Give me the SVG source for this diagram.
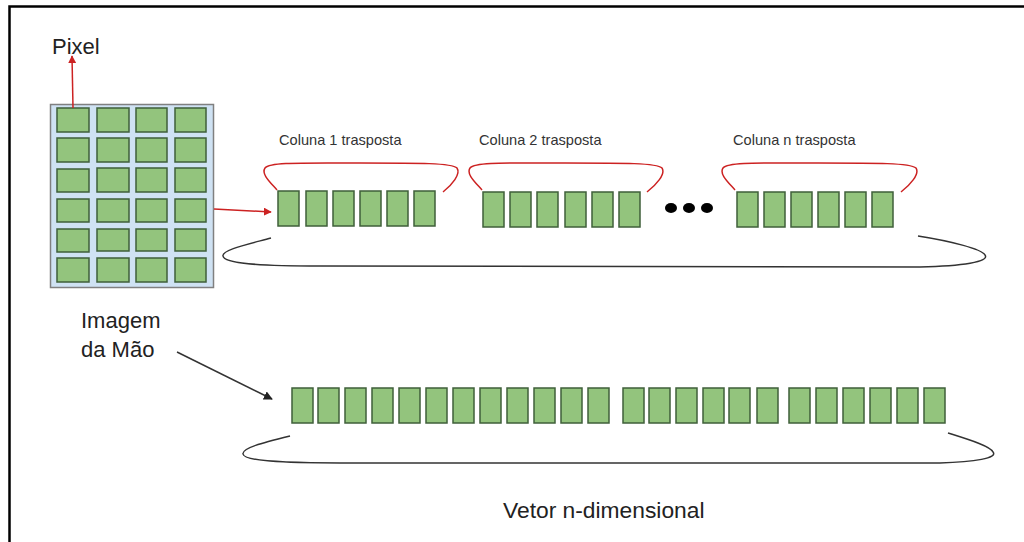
<svg xmlns="http://www.w3.org/2000/svg" width="1024" height="542" viewBox="0 0 1024 542">
  <defs>
    <style>
      .cell { fill: #93c47d; stroke: #3f5f3a; stroke-width: 1.5; }
      .bar { fill: #93c47d; stroke: #3f5f3a; stroke-width: 1.5; }
      .lbl { font-family: "Liberation Sans", Arial, sans-serif; fill: #222; }
      .small { font-size: 14.6px; fill: #333; }
      .red { fill: none; stroke: #cc2222; stroke-width: 1.5; }
      .blk { fill: none; stroke: #333; stroke-width: 1.5; }
    </style>
    <marker id="ahRed" viewBox="0 0 10 10" refX="9" refY="5" markerWidth="8" markerHeight="8" markerUnits="userSpaceOnUse" orient="auto">
      <path d="M0,0 L10,5 L0,10 z" fill="#cc2222"/>
    </marker>
    <marker id="ahBlk" viewBox="0 0 10 10" refX="9" refY="5" markerWidth="9" markerHeight="9" markerUnits="userSpaceOnUse" orient="auto">
      <path d="M0,0 L10,5 L0,10 z" fill="#222"/>
    </marker>
    <rect id="b" class="bar" width="21" height="35"/>
  </defs>
  <rect width="1024" height="542" fill="#fff"/>
  <!-- frame -->
  <path d="M9.5,542 L9.5,6.5 L1024,6.5" fill="none" stroke="#000" stroke-width="2.5"/>

  <!-- image grid -->
  <g id="image">
    <rect x="50.5" y="104.5" width="163" height="183" fill="#cfe2f3" stroke="#808080" stroke-width="1.5"/>
    <g>
      <rect class="cell" x="57" y="108" width="32" height="24"/>
      <rect class="cell" x="97" y="108" width="32" height="24"/>
      <rect class="cell" x="136" y="108" width="31" height="24"/>
      <rect class="cell" x="175" y="108" width="31" height="24"/>
      <rect class="cell" x="57" y="138" width="32" height="24"/>
      <rect class="cell" x="97" y="138" width="32" height="24"/>
      <rect class="cell" x="136" y="138" width="31" height="24"/>
      <rect class="cell" x="175" y="138" width="31" height="24"/>
      <rect class="cell" x="57" y="169" width="32" height="23"/>
      <rect class="cell" x="97" y="168" width="32" height="24"/>
      <rect class="cell" x="136" y="168" width="31" height="24"/>
      <rect class="cell" x="175" y="168" width="31" height="24"/>
      <rect class="cell" x="57" y="199" width="32" height="23"/>
      <rect class="cell" x="97" y="199" width="32" height="23"/>
      <rect class="cell" x="136" y="199" width="31" height="23"/>
      <rect class="cell" x="175" y="199" width="31" height="23"/>
      <rect class="cell" x="57" y="229" width="32" height="23"/>
      <rect class="cell" x="97" y="229" width="32" height="22"/>
      <rect class="cell" x="136" y="229" width="31" height="22"/>
      <rect class="cell" x="175" y="229" width="31" height="22"/>
      <rect class="cell" x="57" y="258" width="32" height="24"/>
      <rect class="cell" x="97" y="258" width="32" height="24"/>
      <rect class="cell" x="136" y="258" width="31" height="24"/>
      <rect class="cell" x="175" y="258" width="31" height="24"/>
    </g>
  </g>

  <g id="pixel-label">
    <text class="lbl" x="52" y="54" font-size="22">Pixel</text>
  </g>
  <g id="image-label">
    <text class="lbl" x="81" y="328" font-size="22">Imagem</text>
    <text class="lbl" x="81" y="357" font-size="22">da Mão</text>
  </g>

  <!-- transposed columns, row 1 -->
  <g id="col1">
    <text class="lbl small" x="279" y="145">Coluna 1 trasposta</text>
    <use href="#b" x="278" y="191"/>
    <use href="#b" x="306" y="191"/>
    <use href="#b" x="333" y="191"/>
    <use href="#b" x="360" y="191"/>
    <use href="#b" x="387" y="191"/>
    <use href="#b" x="414" y="191"/>
  </g>
  <g id="col2">
    <text class="lbl small" x="479" y="145">Coluna 2 trasposta</text>
    <use href="#b" x="483" y="192"/>
    <use href="#b" x="510" y="192"/>
    <use href="#b" x="537" y="192"/>
    <use href="#b" x="565" y="192"/>
    <use href="#b" x="592" y="192"/>
    <use href="#b" x="619" y="192"/>
  </g>
  <g id="ellipsis">
    <ellipse cx="671" cy="208" rx="6" ry="5" fill="#000"/>
    <ellipse cx="689" cy="208" rx="6" ry="5" fill="#000"/>
    <ellipse cx="707" cy="208" rx="6" ry="5" fill="#000"/>
  </g>
  <g id="coln">
    <text class="lbl small" x="733" y="145">Coluna n trasposta</text>
    <use href="#b" x="737" y="192"/>
    <use href="#b" x="764" y="192"/>
    <use href="#b" x="791" y="192"/>
    <use href="#b" x="818" y="192"/>
    <use href="#b" x="845" y="192"/>
    <use href="#b" x="872" y="192"/>
  </g>

  <!-- n-dimensional vector -->
  <g id="vector">
    <use href="#b" x="292" y="388"/>
    <use href="#b" x="318" y="388"/>
    <use href="#b" x="345" y="388"/>
    <use href="#b" x="372" y="388"/>
    <use href="#b" x="399" y="388"/>
    <use href="#b" x="426" y="388"/>
    <use href="#b" x="453" y="388"/>
    <use href="#b" x="480" y="388"/>
    <use href="#b" x="507" y="388"/>
    <use href="#b" x="534" y="388"/>
    <use href="#b" x="561" y="388"/>
    <use href="#b" x="588" y="388"/>
    <use href="#b" x="623" y="388"/>
    <use href="#b" x="649" y="388"/>
    <use href="#b" x="676" y="388"/>
    <use href="#b" x="703" y="388"/>
    <use href="#b" x="729" y="388"/>
    <use href="#b" x="757" y="388"/>
    <use href="#b" x="789" y="388"/>
    <use href="#b" x="816" y="388"/>
    <use href="#b" x="843" y="388"/>
    <use href="#b" x="870" y="388"/>
    <use href="#b" x="897" y="388"/>
    <use href="#b" x="924" y="388"/>
  </g>
  <g id="vector-label">
    <text class="lbl" x="503" y="518" font-size="22.8">Vetor n-dimensional</text>
  </g>

  <!-- connectors and braces -->
  <g id="connectors">
    <path class="red" d="M73,108 L72,56" marker-end="url(#ahRed)"/>
    <path class="red" d="M214,209 L271,212" marker-end="url(#ahRed)"/>
    <path class="blk" d="M177,352 L272,399" marker-end="url(#ahBlk)"/>

    <path class="red" d="M277,190 C270,182 261,174 265,168 C270,162 300,163 360,163 C420,163 452,163 457,168 C461,174 452,185 443,192"/>
    <path class="red" d="M482,190 C475,182 466,174 470,168 C475,162 505,163 565,163 C625,163 657,163 662,168 C666,174 656,185 647,192"/>
    <path class="red" d="M735,190 C728,182 719,174 723,168 C728,162 758,163 818,163 C878,163 910,163 916,168 C920,174 910,185 901,192"/>

    <path class="blk" d="M271,238 C245,245 222,250 223,256 C224,264 262,266 320,266 L920,267 C962,266 990,262 985,255 C982,249 950,241 918,236"/>
    <path class="blk" d="M290,436 C262,443 242,448 243,454 C244,461 282,463 340,463 L940,463 C975,462 998,458 993,452 C990,446 970,440 948,433"/>
  </g>
</svg>
